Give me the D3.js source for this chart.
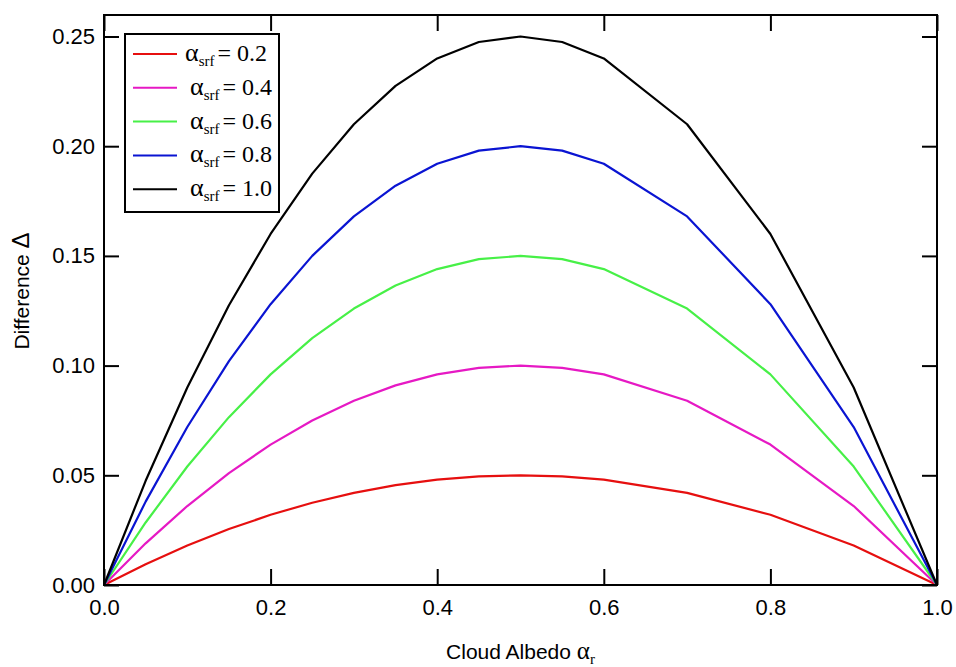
<!DOCTYPE html>
<html>
<head>
<meta charset="utf-8">
<script src="https://cdn.jsdelivr.net/npm/d3@7"></script>
<style>
  body { margin: 0; background: #fff; }
  .tick text { font-family: "Liberation Sans", Arial, sans-serif; font-size: 22px; fill: #000; }
  .tick line { stroke: #000; stroke-width: 2px; }
  .domain { display: none; }
</style>
</head>
<body>
<div class="chart"></div>
<script>
const w = 956;
const h = 667;

// data
const albedo = [0, 0.05, 0.1, 0.15, 0.2, 0.25, 0.3, 0.35, 0.4, 0.45, 0.5, 0.55, 0.6, 0.7, 0.8, 0.9, 1.0];
const surfaceLabels = ["0.2", "0.4", "0.6", "0.8", "1.0"];
const diff02 = [0, 0.0095, 0.018, 0.0255, 0.032, 0.0375, 0.042, 0.0455, 0.048, 0.0495, 0.05, 0.0495, 0.048, 0.042, 0.032, 0.018, 0];
const diff04 = [0, 0.019, 0.036, 0.051, 0.064, 0.075, 0.084, 0.091, 0.096, 0.099, 0.1, 0.099, 0.096, 0.084, 0.064, 0.036, 0];
const diff06 = [0, 0.0285, 0.054, 0.0765, 0.096, 0.1125, 0.126, 0.1365, 0.144, 0.1485, 0.15, 0.1485, 0.144, 0.126, 0.096, 0.054, 0];
const diff08 = [0, 0.038, 0.072, 0.102, 0.128, 0.15, 0.168, 0.182, 0.192, 0.198, 0.2, 0.198, 0.192, 0.168, 0.128, 0.072, 0];
const diff10 = [0, 0.0475, 0.09, 0.1275, 0.16, 0.1875, 0.21, 0.2275, 0.24, 0.2475, 0.25, 0.2475, 0.24, 0.21, 0.16, 0.09, 0];
const xTicks = [0, 0.2, 0.4, 0.6, 0.8, 1.0];
const yTicks = [0, 0.05, 0.1, 0.15, 0.2, 0.25];

const series = [diff02, diff04, diff06, diff08, diff10];
const colors = ["#e60f0f", "#e619c4", "#47f047", "#0a14d2", "#000000"];

const plotLeft = 104, plotRight = 937, plotTop = 15, plotBottom = 585;

const svg = d3.select(".chart")
  .append("svg")
  .attr("width", w)
  .attr("height", h);

const x = d3.scaleLinear().domain([0, 1]).range([plotLeft, plotRight]);
const y = d3.scaleLinear().domain([0, 0.2598]).range([plotBottom, plotTop]);

// axes, ticks pointing inward on all four sides
svg.append("g")
  .attr("transform", `translate(0,${plotBottom})`)
  .call(d3.axisBottom(x).tickValues(xTicks).tickSize(-16).tickSizeOuter(0).tickPadding(14).tickFormat(d3.format(".1f")));

svg.append("g")
  .attr("transform", `translate(0,${plotTop})`)
  .call(d3.axisTop(x).tickValues(xTicks).tickSize(-16).tickSizeOuter(0).tickFormat(""));

svg.append("g")
  .attr("transform", `translate(${plotLeft},0)`)
  .call(d3.axisLeft(y).tickValues(yTicks).tickSize(-15).tickSizeOuter(0).tickPadding(9).tickFormat(d3.format(".2f")));

svg.append("g")
  .attr("transform", `translate(${plotRight},0)`)
  .call(d3.axisRight(y).tickValues(yTicks).tickSize(-15).tickSizeOuter(0).tickFormat(""));

// curves
const line = d3.line()
  .x((d, i) => x(albedo[i]))
  .y(d => y(d));

svg.append("g")
  .selectAll("path")
  .data(series)
  .enter().append("path")
  .attr("d", line)
  .attr("fill", "none")
  .attr("stroke", (d, i) => colors[i])
  .attr("stroke-width", 2.2)
  .attr("stroke-linejoin", "round");

// plot frame
svg.append("rect")
  .attr("x", plotLeft)
  .attr("y", plotTop)
  .attr("width", plotRight - plotLeft)
  .attr("height", plotBottom - plotTop)
  .attr("fill", "none")
  .attr("stroke", "#000")
  .attr("stroke-width", 2);

// axis titles
const xTitle = svg.append("text")
  .attr("x", (plotLeft + plotRight) / 2)
  .attr("y", 659)
  .attr("text-anchor", "middle")
  .attr("font-family", "Liberation Sans, Arial, sans-serif")
  .attr("font-size", "21px");
xTitle.append("tspan").text("Cloud Albedo ");
xTitle.append("tspan").attr("font-family", "Liberation Serif, serif").attr("font-size", "25px").text("α");
xTitle.append("tspan").attr("font-family", "Liberation Serif, serif").attr("font-size", "15px").attr("dy", 5).text("r");

const yTitle = svg.append("text")
  .attr("transform", "translate(29,291) rotate(-90)")
  .attr("text-anchor", "middle")
  .attr("font-family", "Liberation Sans, Arial, sans-serif")
  .attr("font-size", "21px");
yTitle.append("tspan").text("Difference ");
yTitle.append("tspan").attr("font-size", "24px").text("Δ");

// legend
const legend = svg.append("g");
legend.append("rect")
  .attr("x", 125)
  .attr("y", 34)
  .attr("width", 154)
  .attr("height", 178)
  .attr("fill", "#fff")
  .attr("stroke", "#000")
  .attr("stroke-width", 2);

const rows = legend.selectAll("g.row")
  .data(surfaceLabels)
  .enter().append("g")
  .attr("class", "row")
  .attr("transform", (d, i) => `translate(0,${54 + i * 33.8})`);

rows.append("line")
  .attr("x1", 133)
  .attr("x2", 177)
  .attr("stroke", (d, i) => colors[i])
  .attr("stroke-width", 2);

const lt = rows.append("text")
  .attr("x", (d, i) => i === 0 ? 185 : 190)
  .attr("y", 7)
  .attr("font-family", "Liberation Serif, 'Times New Roman', serif")
  .attr("font-size", "24px");
lt.append("tspan").attr("font-size", "26px").text("α");
lt.append("tspan").attr("font-size", "15px").attr("dy", 5).text("srf");
lt.append("tspan").attr("dy", -5).attr("dx", 3).text(d => "= " + d);
</script>
</body>
</html>
